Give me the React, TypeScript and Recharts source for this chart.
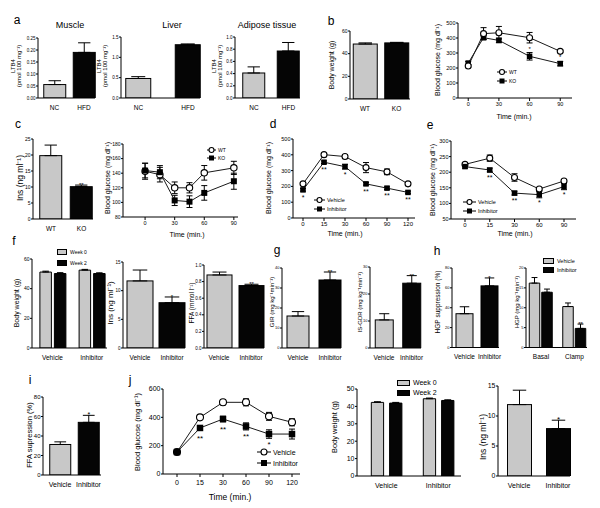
import { Bar, BarChart, ErrorBar, LabelList, Line, LineChart, XAxis, YAxis } from "recharts";

const FONT = "Arial, 'Liberation Sans', Helvetica, sans-serif";
const GRAY = "#c8c8c8";
const BLACK = "#050505";

// a: LTB4 content
const LTB4_GROUPS = ["NC", "HFD"];
const MUSCLE_LTB4 = [0.056, 0.19];
const MUSCLE_LTB4_SEM = [0.016, 0.04];
const LIVER_LTB4 = [0.48, 1.31];
const LIVER_LTB4_SEM = [0.045, 0.02];
const ADIPOSE_LTB4 = [0.41, 0.77];
const ADIPOSE_LTB4_SEM = [0.1, 0.14];

// b: KO mice
const GENOTYPES = ["WT", "KO"];
const KO_BODY_WEIGHT = [48.5, 49.5];
const KO_BODY_WEIGHT_SEM = [1.0, 0.5];
const GTT_KO_TIME = [0, 15, 30, 60, 90];
const GTT_WT = [213, 429, 435, 402, 311];
const GTT_WT_SEM = [8, 40, 42, 35, 8];
const GTT_KO = [233, 402, 384, 278, 229];
const GTT_KO_SEM = [10, 12, 15, 25, 15];
const GTT_KO_SIG = ["", "", "", "*", "*"];

// c: insulin + ITT
const KO_INS = [19.8, 10.1];
const KO_INS_SEM = [3.3, 0.5];
const KO_INS_SIG = ["", "**"];
const ITT_TIME = [0, 15, 30, 45, 60, 90];
const ITT_WT = [142.7, 138, 120, 120, 140.5, 147.3];
const ITT_WT_SEM = [11, 10, 8, 7, 10, 9];
const ITT_KO = [143.6, 141.4, 102.7, 101, 113, 129];
const ITT_KO_SEM = [10, 9, 7, 8, 10, 11];

// d / e: inhibitor GTT & ITT
const D_TIME = ["0", "15", "30", "60", "90", "120"];
const D_VEHICLE = [216, 401, 389, 319, 292, 216];
const D_VEHICLE_SEM = [8, 8, 12, 32, 18, 8];
const D_INHIBITOR = [178, 353, 325, 216, 189, 162];
const D_INHIBITOR_SEM = [8, 8, 15, 8, 8, 8];
const D_SIG = ["*", "**", "*", "**", "**", "**"];

const E_TIME = ["0", "15", "30", "60", "90"];
const E_VEHICLE = [225, 245, 183, 146, 172];
const E_VEHICLE_SEM = [6, 10, 12, 5, 5];
const E_INHIBITOR = [218, 207, 133, 128, 154];
const E_INHIBITOR_SEM = [5, 6, 6, 10, 10];
const E_SIG = ["", "**", "**", "*", "*"];

// f-h
const TREATMENTS = ["Vehicle", "Inhibitor"];
const BW_WEEK0 = [51.2, 52.5];
const BW_WEEK0_SEM = [0.6, 0.5];
const BW_WEEK2 = [50.2, 50.2];
const BW_WEEK2_SEM = [0.6, 0.5];
const F_INS = [11.7, 7.9];
const F_INS_SEM = [1.9, 1.0];
const F_INS_SIG = ["", "*"];
const F_FFA = [0.88, 0.752];
const F_FFA_SEM = [0.035, 0.016];
const F_FFA_SIG = ["", "**"];
const GIR = [16, 34];
const GIR_SEM = [2.2, 4];
const GIR_SIG = ["", "**"];
const IS_GDR = [10.4, 24];
const IS_GDR_SEM = [2.3, 2.8];
const IS_GDR_SIG = ["", "**"];
const HGP_SUPP = [34, 62];
const HGP_SUPP_SEM = [7, 8];
const HGP_SUPP_SIG = ["", "*"];
const CLAMP_PHASES = ["Basal", "Clamp"];
const HGP_VEHICLE = [16.2, 10.3];
const HGP_VEHICLE_SEM = [1.4, 0.9];
const HGP_INHIBITOR = [13.9, 4.8];
const HGP_INHIBITOR_SEM = [0.8, 1.1];
const HGP_INHIBITOR_SIG = ["", "**"];

// i / j
const FFA_SUPP = [31.3, 54];
const FFA_SUPP_SEM = [2.7, 7.2];
const FFA_SUPP_SIG = ["", "*"];
const J_TIME = ["0", "15", "30", "60", "90", "120"];
const J_VEHICLE = [155, 400, 506, 506, 407, 365];
const J_VEHICLE_SEM = [10, 10, 18, 25, 28, 25];
const J_INHIBITOR = [155, 325, 388, 336, 282, 282];
const J_INHIBITOR_SEM = [10, 10, 20, 25, 30, 35];
const J_SIG = ["", "**", "**", "**", "*", ""];
const J_BW_WEEK0 = [42.3, 44.4];
const J_BW_WEEK2 = [41.9, 43.4];
const J_BW_SEM = [0.4, 0.4];
const J_INS = [11.9, 7.9];
const J_INS_SEM = [2.4, 1.4];
const J_INS_SIG = ["", "*"];

const YW = 24;
const MT = 10;
const MR = 8;
const XH = 16;

type Series = { values: number[]; sem: number[]; fill: string; sig?: string[] };

const barSig = (s: Series, size: number) => (props: any) => {
  const vb = props.viewBox ?? {};
  const x = props.x ?? vb.x;
  const y = props.y ?? vb.y;
  const width = props.width ?? vb.width;
  const height = props.height ?? vb.height;
  const { value, index } = props;
  if (!value) return null;
  const px = height / s.values[index];
  const top = y - s.sem[index] * px;
  return (
    <text key={`sig-${index}`} x={x + width / 2} y={top + 2} textAnchor="middle" fontSize={size} fill="#000">
      {value}
    </text>
  );
};

const yAxisProps = (ticks: number[], tickFont: number, digits?: number) => ({
  type: "number" as const,
  width: YW,
  domain: [ticks[0], ticks[ticks.length - 1]] as [number, number],
  ticks,
  interval: 0 as const,
  allowDataOverflow: true,
  tickSize: 2,
  tickMargin: 0.5,
  tickFormatter: (v: number) => v.toFixed(digits ?? 0),
  tick: { fontSize: tickFont, fill: "#000" },
  axisLine: { stroke: "#000" },
  tickLine: { stroke: "#000" },
});

type BarPanelProps = {
  x0: number; x1: number; yTop: number; yBot: number;
  categories: string[];
  series: Series[];
  ticks: number[];
  digits?: number;
  centers: [number, number];
  barSize: number;
  barGap?: number;
  tickFont: number;
  catFont: number;
  sigFont?: number;
};

// grouped bars: one colour per series
const BarPanel = (p: BarPanelProps) => {
  const band = p.centers[1] - p.centers[0];
  const padLeft = p.centers[0] - band / 2 - p.x0;
  const padRight = p.x1 - (p.centers[1] + band / 2);
  const data = p.categories.map((name, i) => {
    const row: Record<string, unknown> = { name };
    p.series.forEach((s, k) => {
      row[`v${k}`] = s.values[i];
      row[`e${k}`] = [0, s.sem[i]];
      row[`s${k}`] = s.sig?.[i] ?? "";
    });
    return row;
  });
  const w = p.x1 - p.x0 + YW + MR;
  const h = p.yBot - p.yTop + MT + XH;
  return (
    <div style={{ position: "absolute", left: p.x0 - YW, top: p.yTop - MT }}>
      <BarChart width={w} height={h} data={data} margin={{ top: MT, right: MR, left: 0, bottom: 0 }} barGap={p.barGap ?? 0}>
        <XAxis
          dataKey="name"
          type="category"
          padding={{ left: padLeft, right: padRight }}
          height={XH}
          tickLine={false}
          axisLine={{ stroke: "#000" }}
          tick={{ fontSize: p.catFont, fill: "#000" }}
          interval={0}
          tickMargin={1}
        />
        <YAxis {...yAxisProps(p.ticks, p.tickFont, p.digits)} />
        {p.series.map((s, k) => (
          <Bar key={k} dataKey={`v${k}`} fill={s.fill} stroke="#000" strokeWidth={1} barSize={p.barSize} isAnimationActive={false}>
            <ErrorBar dataKey={`e${k}`} width={p.barSize * 0.28} stroke="#000" strokeWidth={1} direction="y" />
            {s.sig && <LabelList dataKey={`s${k}`} content={barSig(s, p.sigFont ?? 6)} />}
          </Bar>
        ))}
      </BarChart>
    </div>
  );
};

// Two-bar panel where the first category is gray and the second black.
const TwoBar = (p: {
  x0: number; x1: number; yTop: number; yBot: number;
  cats: string[]; values: number[]; sem: number[]; sig?: string[];
  ticks: number[]; digits?: number; centers: [number, number]; barSize: number;
  tickFont: number; catFont: number; sigFont?: number;
}) => {
  const band = p.centers[1] - p.centers[0];
  const padLeft = p.centers[0] - band / 2 - p.x0;
  const padRight = p.x1 - (p.centers[1] + band / 2);
  const data = p.cats.map((name, i) => ({
    name,
    v: p.values[i],
    e: [0, p.sem[i]],
    s: p.sig?.[i] ?? "",
  }));
  const w = p.x1 - p.x0 + YW + MR;
  const h = p.yBot - p.yTop + MT + XH;
  const s: Series = { values: p.values, sem: p.sem, fill: GRAY, sig: p.sig };
  return (
    <div style={{ position: "absolute", left: p.x0 - YW, top: p.yTop - MT }}>
      <BarChart width={w} height={h} data={data} margin={{ top: MT, right: MR, left: 0, bottom: 0 }}>
        <XAxis
          dataKey="name"
          type="category"
          padding={{ left: padLeft, right: padRight }}
          height={XH}
          tickLine={false}
          axisLine={{ stroke: "#000" }}
          tick={{ fontSize: p.catFont, fill: "#000" }}
          interval={0}
          tickMargin={1}
        />
        <YAxis {...yAxisProps(p.ticks, p.tickFont, p.digits)} />
        <Bar
          dataKey="v"
          stroke="#000"
          strokeWidth={1}
          barSize={p.barSize}
          isAnimationActive={false}
          shape={(props: any) => (
            <rect
              x={props.x}
              y={props.y}
              width={props.width}
              height={props.height}
              fill={props.index === 0 ? GRAY : BLACK}
              stroke="#000"
              strokeWidth={1}
            />
          )}
        >
          <ErrorBar dataKey="e" width={p.barSize * 0.28} stroke="#000" strokeWidth={1} direction="y" />
          {p.sig && <LabelList dataKey="s" content={barSig(s, p.sigFont ?? 6)} />}
        </Bar>
      </BarChart>
    </div>
  );
};

type LineSeries = { values: number[]; sem: number[]; marker: "circle" | "square"; sig?: string[]; sigDy?: number };

const openCircle = (r: number) => (props: any) => (
  <circle key={`c-${props.index}`} cx={props.cx} cy={props.cy} r={r} fill="#fff" stroke="#000" strokeWidth={1.1} />
);
const filledSquare = (s: number) => (props: any) => (
  <rect key={`q-${props.index}`} x={props.cx - s / 2} y={props.cy - s / 2} width={s} height={s} fill="#000" />
);

const lineSig = (dy: number, size: number) => (props: any) => {
  const vb = props.viewBox ?? {};
  const x = props.x ?? vb.x;
  const y = props.y ?? vb.y;
  if (!props.value) return null;
  return (
    <text key={`ls-${props.index}`} x={x} y={y + dy} textAnchor="middle" fontSize={size} fill="#000">
      {props.value}
    </text>
  );
};

type LinePanelProps = {
  x0: number; x1: number; yTop: number; yBot: number;
  times: (number | string)[];
  series: LineSeries[];
  ticks: number[];
  xDomain?: [number, number];
  xTicks?: number[];
  first?: number;
  last?: number;
  tickFont: number;
  xTickFont: number;
  xTickMargin?: number;
  r: number;
  sq: number;
  sigFont: number;
};

const LinePanel = (p: LinePanelProps) => {
  const data = p.times.map((t, i) => {
    const row: Record<string, unknown> = { t };
    p.series.forEach((s, k) => {
      row[`v${k}`] = s.values[i];
      row[`e${k}`] = s.sem[i];
      row[`s${k}`] = s.sig?.[i] ?? "";
    });
    return row;
  });
  const w = p.x1 - p.x0 + YW + MR;
  const h = p.yBot - p.yTop + MT + XH;
  const numeric = !!p.xDomain;
  const common = {
    dataKey: "t",
    interval: 0 as const,
    height: XH,
    tickSize: 3,
    tickMargin: p.xTickMargin ?? 1,
    axisLine: { stroke: "#000" },
    tickLine: { stroke: "#000" },
    tick: { fontSize: p.xTickFont, fill: "#000" },
  };
  return (
    <div style={{ position: "absolute", left: p.x0 - YW, top: p.yTop - MT }}>
      <LineChart width={w} height={h} data={data} margin={{ top: MT, right: MR, left: 0, bottom: 0 }}>
        {numeric ? (
          <XAxis {...common} type="number" domain={p.xDomain} ticks={p.xTicks} allowDataOverflow />
        ) : (
          <XAxis
            {...common}
            type="category"
            scale="point"
            padding={{ left: (p.first ?? 0) - p.x0, right: p.x1 - (p.last ?? 0) }}
          />
        )}
        <YAxis {...yAxisProps(p.ticks, p.tickFont)} />
        {p.series.map((s, k) => (
          <Line
            key={k}
            type="linear"
            dataKey={`v${k}`}
            stroke="#1a1a1a"
            strokeWidth={1}
            dot={s.marker === "circle" ? openCircle(p.r) : filledSquare(p.sq)}
            activeDot={false}
            isAnimationActive={false}
          >
            <ErrorBar dataKey={`e${k}`} width={3} stroke="#000" strokeWidth={1} direction="y" />
            {s.sig && <LabelList dataKey={`s${k}`} content={lineSig(s.sigDy ?? 8, p.sigFont)} />}
          </Line>
        ))}
      </LineChart>
    </div>
  );
};

const Txt = ({ x, y, size, children, rotate }: { x: number; y: number; size: number; children: any; rotate?: boolean }) => (
  <div
    style={{
      position: "absolute",
      left: x,
      top: y,
      fontSize: size,
      lineHeight: 1.05,
      whiteSpace: "nowrap",
      textAlign: "center",
      transform: `translate(-50%, -50%)${rotate ? " rotate(-90deg)" : ""}`,
    }}
  >
    {children}
  </div>
);

const LineKey = ({ x, y, w, marker, label, size, r, sq }: { x: number; y: number; w: number; marker: "circle" | "square"; label: string; size: number; r: number; sq: number }) => (
  <div style={{ position: "absolute", left: x, top: y - 5, height: 10, display: "flex", alignItems: "center", fontSize: size, whiteSpace: "nowrap" }}>
    <svg width={w} height={10} style={{ marginRight: 2 }}>
      <line x1={0} y1={5} x2={w} y2={5} stroke="#000" strokeWidth={1} />
      {marker === "circle" ? (
        <circle cx={w / 2} cy={5} r={r} fill="#fff" stroke="#000" strokeWidth={1.1} />
      ) : (
        <rect x={w / 2 - sq / 2} y={5 - sq / 2} width={sq} height={sq} fill="#000" />
      )}
    </svg>
    {label}
  </div>
);

const BoxKey = ({ x, y, w, h, fill, label, size }: { x: number; y: number; w: number; h: number; fill: string; label: string; size: number }) => (
  <div style={{ position: "absolute", left: x, top: y - h / 2, height: h, display: "flex", alignItems: "center", fontSize: size, whiteSpace: "nowrap" }}>
    <div style={{ width: w, height: h, background: fill, border: "1px solid #000", boxSizing: "border-box", marginRight: 3 }} />
    {label}
  </div>
);

const App = () => (
  <div style={{ position: "absolute", left: 0, top: 0, width: 600, height: 508, background: "#fff", fontFamily: FONT, color: "#000", overflow: "hidden" }}>
    {/* a */}
    <Txt x={17} y={20} size={12}>a</Txt>
    <Txt x={70} y={26} size={9}>Muscle</Txt>
    <Txt x={172} y={26} size={9}>Liver</Txt>
    <Txt x={267} y={26} size={9}>Adipose tissue</Txt>
    <Txt x={16} y={66} size={6} rotate>LTB4<br />(pmol 100 mg⁻¹)</Txt>
    <Txt x={102} y={66} size={6} rotate>LTB4<br />(pmol 100 mg⁻¹)</Txt>
    <Txt x={217} y={66} size={6} rotate>LTB4<br />(pmol 100 mg⁻¹)</Txt>
    <TwoBar x0={38} x1={95} yTop={38} yBot={98} cats={LTB4_GROUPS} values={MUSCLE_LTB4} sem={MUSCLE_LTB4_SEM} ticks={[0, 0.05, 0.1, 0.15, 0.2, 0.25]} digits={2} centers={[54.5, 84]} barSize={22} tickFont={4.5} catFont={6.5} />
    <TwoBar x0={121} x1={200} yTop={37} yBot={98} cats={LTB4_GROUPS} values={LIVER_LTB4} sem={LIVER_LTB4_SEM} ticks={[0, 0.5, 1.0, 1.5]} digits={1} centers={[138.5, 188]} barSize={25} tickFont={4.5} catFont={6.5} />
    <TwoBar x0={235} x1={300} yTop={37} yBot={98} cats={LTB4_GROUPS} values={ADIPOSE_LTB4} sem={ADIPOSE_LTB4_SEM} ticks={[0, 0.2, 0.4, 0.6, 0.8, 1.0]} digits={1} centers={[254, 288.5]} barSize={22} tickFont={4.5} catFont={6.5} />

    {/* b */}
    <Txt x={331} y={21} size={12}>b</Txt>
    <Txt x={332} y={65} size={7} rotate>Body weight (g)</Txt>
    <TwoBar x0={350} x1={410} yTop={31} yBot={99} cats={GENOTYPES} values={KO_BODY_WEIGHT} sem={KO_BODY_WEIGHT_SEM} ticks={[0, 20, 40, 60]} centers={[365, 396.5]} barSize={24} tickFont={5} catFont={6.5} />
    <Txt x={438} y={60} size={7} rotate>Blood glucose (mg dl⁻¹)</Txt>
    <LinePanel
      x0={458} x1={572} yTop={23} yBot={98}
      times={GTT_KO_TIME}
      xDomain={[-10, 101.5]} xTicks={[0, 30, 60, 90]}
      ticks={[0, 100, 200, 300, 400, 500]}
      series={[
        { values: GTT_KO, sem: GTT_KO_SEM, marker: "square", sig: GTT_KO_SIG, sigDy: -5 },
        { values: GTT_WT, sem: GTT_WT_SEM, marker: "circle" },
      ]}
      tickFont={5.5} xTickFont={5.5} r={3} sq={5.5} sigFont={6}
    />
    <Txt x={514} y={117} size={7}>Time (min.)</Txt>
    <LineKey x={497} y={72} w={10} marker="circle" label="WT" size={5} r={2.5} sq={5} />
    <LineKey x={497} y={81} w={10} marker="square" label="KO" size={5} r={2.5} sq={5} />

    {/* c */}
    <Txt x={18} y={124} size={12}>c</Txt>
    <Txt x={20} y={178} size={8.5} rotate>Ins (ng ml⁻¹)</Txt>
    <TwoBar x0={33} x1={93} yTop={139} yBot={219} cats={GENOTYPES} values={KO_INS} sem={KO_INS_SEM} sig={KO_INS_SIG} ticks={[0, 5, 10, 15, 20, 25]} centers={[51, 81.5]} barSize={22} tickFont={5} catFont={6.5} />
    <Txt x={108} y={178} size={7} rotate>Blood glucose (mg dl⁻¹)</Txt>
    <LinePanel
      x0={123} x1={238} yTop={144} yBot={217}
      times={ITT_TIME}
      xDomain={[-22.4, 94.2]} xTicks={[0, 30, 60, 90]}
      ticks={[80, 100, 120, 140, 160, 180]}
      series={[
        { values: ITT_WT, sem: ITT_WT_SEM, marker: "circle" },
        { values: ITT_KO, sem: ITT_KO_SEM, marker: "square" },
      ]}
      tickFont={5} xTickFont={5.5} r={3.2} sq={6} sigFont={6}
    />
    <Txt x={187} y={235} size={7}>Time (min.)</Txt>
    <LineKey x={207} y={150} w={9} marker="circle" label="WT" size={5} r={2.5} sq={5} />
    <LineKey x={207} y={158} w={9} marker="square" label="KO" size={5} r={2.5} sq={5} />

    {/* d */}
    <Txt x={273} y={124} size={12}>d</Txt>
    <Txt x={269} y={178} size={7} rotate>Blood glucose (mg dl⁻¹)</Txt>
    <LinePanel
      x0={293} x1={415} yTop={139} yBot={218}
      times={D_TIME} first={303} last={408}
      ticks={[0, 100, 200, 300, 400, 500]}
      series={[
        { values: D_VEHICLE, sem: D_VEHICLE_SEM, marker: "circle" },
        { values: D_INHIBITOR, sem: D_INHIBITOR_SEM, marker: "square", sig: D_SIG, sigDy: 10 },
      ]}
      tickFont={5.5} xTickFont={6} r={3} sq={5.5} sigFont={7}
    />
    <Txt x={345} y={234} size={7}>Time (min.)</Txt>
    <LineKey x={314} y={200} w={11} marker="circle" label="Vehicle" size={5.5} r={2.5} sq={5} />
    <LineKey x={314} y={209} w={11} marker="square" label="Inhibitor" size={5.5} r={2.5} sq={5} />

    {/* e */}
    <Txt x={430} y={125} size={12}>e</Txt>
    <Txt x={433} y={180} size={7} rotate>Blood glucose (mg dl⁻¹)</Txt>
    <LinePanel
      x0={451} x1={576} yTop={141} yBot={219}
      times={E_TIME} first={465} last={564}
      ticks={[50, 100, 150, 200, 250, 300]}
      series={[
        { values: E_VEHICLE, sem: E_VEHICLE_SEM, marker: "circle" },
        { values: E_INHIBITOR, sem: E_INHIBITOR_SEM, marker: "square", sig: E_SIG, sigDy: 10 },
      ]}
      tickFont={5.5} xTickFont={6} r={3} sq={5.5} sigFont={7}
    />
    <Txt x={515} y={234} size={7}>Time (min.)</Txt>
    <LineKey x={463} y={202} w={13} marker="circle" label="Vehicle" size={5.5} r={2.5} sq={5} />
    <LineKey x={463} y={211} w={13} marker="square" label="Inhibitor" size={5.5} r={2.5} sq={5} />

    {/* f */}
    <Txt x={14} y={241} size={12}>f</Txt>
    <Txt x={17} y={303} size={7} rotate>Body weight (g)</Txt>
    <BarPanel
      x0={32} x1={107} yTop={259} yBot={348}
      categories={TREATMENTS}
      series={[
        { values: BW_WEEK0, sem: BW_WEEK0_SEM, fill: GRAY },
        { values: BW_WEEK2, sem: BW_WEEK2_SEM, fill: BLACK },
      ]}
      ticks={[0, 20, 40, 60]} centers={[52.5, 91.7]} barSize={11.5} barGap={3}
      tickFont={5} catFont={6.5}
    />
    <BoxKey x={57} y={252} w={10} h={6} fill={GRAY} label="Week 0" size={5} />
    <BoxKey x={57} y={263} w={10} h={6} fill={BLACK} label="Week 2" size={5} />
    <Txt x={111} y={303} size={8} rotate>Ins (ng ml⁻¹)</Txt>
    <TwoBar x0={123} x1={185} yTop={262} yBot={348} cats={TREATMENTS} values={F_INS} sem={F_INS_SEM} sig={F_INS_SIG} ticks={[0, 5, 10, 15]} centers={[140, 172]} barSize={26} tickFont={4.5} catFont={6.5} />
    <Txt x={192} y={303} size={6.5} rotate>FFA (mmol l⁻¹)</Txt>
    <TwoBar x0={204} x1={264} yTop={265} yBot={348} cats={TREATMENTS} values={F_FFA} sem={F_FFA_SEM} sig={F_FFA_SIG} ticks={[0, 0.2, 0.4, 0.6, 0.8, 1.0]} digits={1} centers={[219, 251]} barSize={25} tickFont={4.5} catFont={6.5} />

    {/* g */}
    <Txt x={277} y={250} size={12}>g</Txt>
    <Txt x={272} y={302} size={6} rotate>GIR (mg kg⁻¹min⁻¹)</Txt>
    <TwoBar x0={282} x1={341} yTop={268} yBot={348} cats={TREATMENTS} values={GIR} sem={GIR_SEM} sig={GIR_SIG} ticks={[0, 10, 20, 30, 40]} centers={[298, 330]} barSize={22} tickFont={4} catFont={6.5} />
    <Txt x={360} y={302} size={6} rotate>IS-GDR (mg kg⁻¹min⁻¹)</Txt>
    <TwoBar x0={370} x1={421} yTop={267} yBot={348} cats={TREATMENTS} values={IS_GDR} sem={IS_GDR_SEM} sig={IS_GDR_SIG} ticks={[0, 10, 20, 30]} centers={[384, 411.5]} barSize={18} tickFont={4} catFont={6.5} />

    {/* h */}
    <Txt x={437} y={251} size={12}>h</Txt>
    <Txt x={438} y={302} size={6.5} rotate>HGP suppression (%)</Txt>
    <TwoBar x0={452} x1={499} yTop={268} yBot={347.5} cats={TREATMENTS} values={HGP_SUPP} sem={HGP_SUPP_SEM} sig={HGP_SUPP_SIG} ticks={[0, 20, 40, 60, 80]} centers={[464.5, 489.5]} barSize={17} tickFont={4} catFont={6.5} />
    <Txt x={516.5} y={302} size={6} rotate>HGP (mg kg⁻¹min⁻¹)</Txt>
    <BarPanel
      x0={526} x1={587} yTop={268} yBot={347.5}
      categories={CLAMP_PHASES}
      series={[
        { values: HGP_VEHICLE, sem: HGP_VEHICLE_SEM, fill: GRAY },
        { values: HGP_INHIBITOR, sem: HGP_INHIBITOR_SEM, fill: BLACK, sig: HGP_INHIBITOR_SIG },
      ]}
      ticks={[0, 5, 10, 15, 20]} centers={[541, 574.5]} barSize={10.5} barGap={2}
      tickFont={4} catFont={6.5}
    />
    <BoxKey x={543} y={261} w={11} h={6} fill={GRAY} label="Vehicle" size={5.5} />
    <BoxKey x={543} y={270} w={11} h={6} fill={BLACK} label="Inhibitor" size={5.5} />

    {/* i */}
    <Txt x={30} y={380} size={12}>i</Txt>
    <Txt x={30} y={435} size={7.5} rotate>FFA supression (%)</Txt>
    <TwoBar x0={43} x1={101} yTop={397} yBot={475} cats={TREATMENTS} values={FFA_SUPP} sem={FFA_SUPP_SEM} sig={FFA_SUPP_SIG} ticks={[0, 20, 40, 60, 80]} centers={[60, 88.5]} barSize={21} tickFont={6} catFont={7} sigFont={7} />

    {/* j */}
    <Txt x={130} y={380} size={12}>j</Txt>
    <Txt x={138} y={432} size={7.5} rotate>Blood glucose (mg dl⁻¹)</Txt>
    <LinePanel
      x0={163} x1={300} yTop={389} yBot={474}
      times={J_TIME} first={177} last={292}
      ticks={[0, 200, 400, 600]}
      series={[
        { values: J_VEHICLE, sem: J_VEHICLE_SEM, marker: "circle" },
        { values: J_INHIBITOR, sem: J_INHIBITOR_SEM, marker: "square", sig: J_SIG, sigDy: 13 },
      ]}
      tickFont={7} xTickFont={7} xTickMargin={3} r={3.5} sq={6.5} sigFont={8}
    />
    <Txt x={230} y={497} size={8.5}>Time (min.)</Txt>
    <LineKey x={257} y={452} w={14} marker="circle" label="Vehicle" size={7} r={3} sq={6} />
    <LineKey x={257} y={463} w={14} marker="square" label="Inhibitor" size={7} r={3} sq={6} />

    <Txt x={335} y={427} size={7.5} rotate>Body weight (g)</Txt>
    <BarPanel
      x0={357} x1={461} yTop={389} yBot={476}
      categories={TREATMENTS}
      series={[
        { values: J_BW_WEEK0, sem: J_BW_SEM, fill: GRAY },
        { values: J_BW_WEEK2, sem: J_BW_SEM, fill: BLACK },
      ]}
      ticks={[0, 10, 20, 30, 40, 50]} centers={[386.3, 438.3]} barSize={12.3} barGap={6}
      tickFont={7} catFont={7}
    />
    <BoxKey x={397} y={382.5} w={13} h={6} fill={GRAY} label="Week 0" size={7} />
    <BoxKey x={397} y={392.5} w={13} h={6} fill={BLACK} label="Week 2" size={7} />

    <Txt x={483} y={437} size={8.5} rotate>Ins (ng ml⁻¹)</Txt>
    <TwoBar x0={498} x1={570} yTop={386} yBot={476} cats={TREATMENTS} values={J_INS} sem={J_INS_SEM} sig={J_INS_SIG} ticks={[0, 5, 10, 15]} centers={[519, 558]} barSize={24} tickFont={7} catFont={7} sigFont={8} />
  </div>
);

export default App;
